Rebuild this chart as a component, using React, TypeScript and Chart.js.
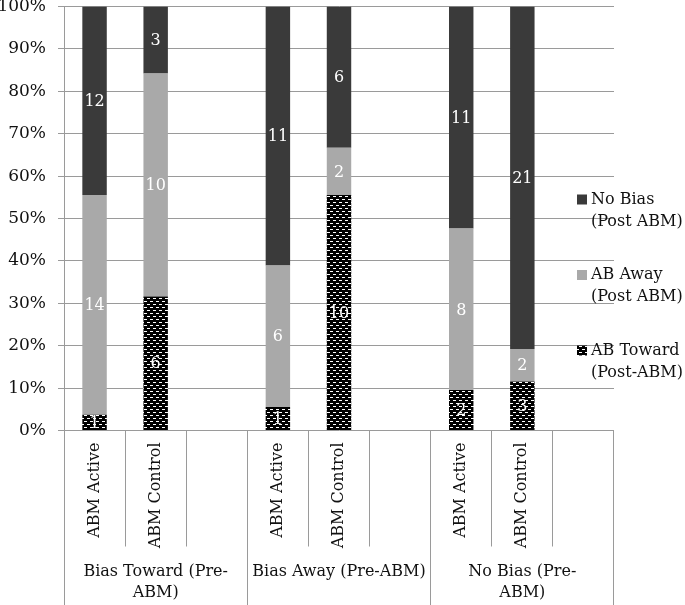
import React, { useEffect, useRef } from "react";
import { Chart, registerables } from "chart.js";

Chart.register(...registerables);

// ---- data ----
const categories = [
  "ABM Active", "ABM Control", "",
  "ABM Active", "ABM Control", "",
  "ABM Active", "ABM Control", "",
];
const groupLabels = [
  ["Bias Toward (Pre-", "ABM)"],
  ["Bias Away (Pre-ABM)"],
  ["No Bias (Pre-", "ABM)"],
];
const towardCounts = [1, 6, null, 1, 10, null, 2, 3, null];
const awayCounts = [14, 10, null, 6, 2, null, 8, 2, null];
const noBiasCounts = [12, 3, null, 11, 6, null, 11, 21, null];
const seriesNames = ["AB Toward (Post-ABM)", "AB Away (Post ABM)", "No Bias (Post ABM)"];
const legendLines = [
  ["AB Toward", "(Post-ABM)"],
  ["AB Away", "(Post ABM)"],
  ["No Bias", "(Post ABM)"],
];

const FONT = "'DejaVu Serif', serif";
const GRID = "#9a9a9a";
const DARK = "#3a3a3a";
const LIGHT = "#a9a9a9";

function makePattern(): CanvasPattern | string {
  const c = document.createElement("canvas");
  c.width = 6;
  c.height = 6;
  const g = c.getContext("2d");
  if (!g) return "#000";
  g.fillStyle = "#000";
  g.fillRect(0, 0, 6, 6);
  g.fillStyle = "#fff";
  g.fillRect(0, 1, 3, 1);
  g.fillRect(3, 4, 3, 1);
  return g.createPattern(c, "repeat") || "#000";
}

export default function App() {
  const ref = useRef<HTMLCanvasElement | null>(null);

  useEffect(() => {
    if (!ref.current) return;
    const pattern = makePattern();
    const counts = [towardCounts, awayCounts, noBiasCounts];
    const totals = categories.map((_, i) =>
      counts.reduce((s, arr) => s + (arr[i] ?? 0), 0)
    );
    const pct = (arr: (number | null)[]) =>
      arr.map((v, i) => (v == null || totals[i] === 0 ? null : (v / totals[i]) * 100));
    const colors: (string | CanvasPattern)[] = [pattern, LIGHT, DARK];

    const overlay = {
      id: "overlay",
      afterDatasetsDraw(chart: any) {
        const ctx = chart.ctx;
        ctx.save();
        ctx.font = `16px ${FONT}`;
        ctx.fillStyle = "#ffffff";
        ctx.textAlign = "center";
        ctx.textBaseline = "middle";
        chart.data.datasets.forEach((ds: any, di: number) => {
          const meta = chart.getDatasetMeta(di);
          meta.data.forEach((el: any, i: number) => {
            const c = counts[di][i];
            if (c == null) return;
            ctx.fillText(String(c), el.x, (el.y + el.base) / 2 + 1);
          });
        });
        ctx.restore();
      },
      afterDraw(chart: any) {
        const ctx = chart.ctx;
        const xs = chart.scales.x;
        const area = chart.chartArea;
        const n = categories.length;
        const slot = xs.getPixelForValue(1) - xs.getPixelForValue(0);
        const bounds: number[] = [];
        for (let k = 0; k <= n; k++) {
          bounds.push(xs.getPixelForValue(0) - slot / 2 + k * slot);
        }
        ctx.save();
        ctx.strokeStyle = GRID;
        ctx.lineWidth = 1;
        bounds.forEach((b, k) => {
          const x = Math.round(b - 0.5) + 0.5;
          const y1 = k % 3 === 0 ? chart.height : area.bottom + 116;
          ctx.beginPath();
          ctx.moveTo(x, area.bottom);
          ctx.lineTo(x, y1);
          ctx.stroke();
        });
        // group labels
        ctx.font = `16px ${FONT}`;
        ctx.fillStyle = "#111";
        ctx.textAlign = "center";
        ctx.textBaseline = "middle";
        groupLabels.forEach((lines, g) => {
          const cx = (bounds[g * 3] + bounds[g * 3 + 3]) / 2;
          lines.forEach((t, li) => {
            ctx.fillText(t, cx, area.bottom + 141 + li * 21.5);
          });
        });
        // legend
        ctx.textAlign = "left";
        const order = [2, 1, 0];
        order.forEach((di, idx) => {
          const y0 = 199.5 + idx * 75.5;
          ctx.fillStyle = colors[di] as any;
          ctx.fillRect(577, y0 - 5, 10, 10);
          ctx.fillStyle = "#111";
          legendLines[di].forEach((t, li) => {
            ctx.fillText(t, 591, y0 + li * 22);
          });
        });
        ctx.restore();
      },
    };

    const chart = new Chart(ref.current, {
      type: "bar",
      data: {
        labels: categories,
        datasets: [
          { label: seriesNames[0], data: pct(towardCounts), backgroundColor: pattern as any },
          { label: seriesNames[1], data: pct(awayCounts), backgroundColor: LIGHT },
          { label: seriesNames[2], data: pct(noBiasCounts), backgroundColor: DARK },
        ],
      },
      options: {
        animation: false,
        responsive: false,
        maintainAspectRatio: false,
        datasets: { bar: { categoryPercentage: 1, barPercentage: 0.4 } },
        layout: { padding: { top: 6.5, right: 71, left: 0, bottom: 0 } },
        plugins: { legend: { display: false }, tooltip: { enabled: false } },
        scales: {
          x: {
            stacked: true,
            offset: true,
            grid: { display: false, drawTicks: false },
            border: { display: false },
            ticks: {
              autoSkip: false,
              minRotation: 90,
              maxRotation: 90,
              padding: 12,
              color: "#111",
              font: { family: FONT, size: 16 },
            },
            afterFit: (s: any) => {
              s.height = 174.5;
              s.paddingLeft = 0;
              s.paddingRight = 0;
            },
          },
          y: {
            stacked: true,
            min: 0,
            max: 100,
            grid: { color: GRID, lineWidth: 1, tickLength: 6 },
            border: { display: true, color: GRID },
            ticks: {
              stepSize: 10,
              padding: 12,
              color: "#111",
              font: { family: FONT, size: 17 },
              callback: (v: any) => `${v}%`,
            },
            afterFit: (s: any) => {
              s.width = 64;
              s.paddingTop = 0;
              s.paddingBottom = 0;
            },
          },
        },
      },
      plugins: [overlay],
    });
    return () => chart.destroy();
  }, []);

  return (
    <div style={{ position: "absolute", left: 0, top: 0, width: 685, height: 605 }}>
      <canvas ref={ref} width={685} height={605} style={{ display: "block" }} />
    </div>
  );
}
